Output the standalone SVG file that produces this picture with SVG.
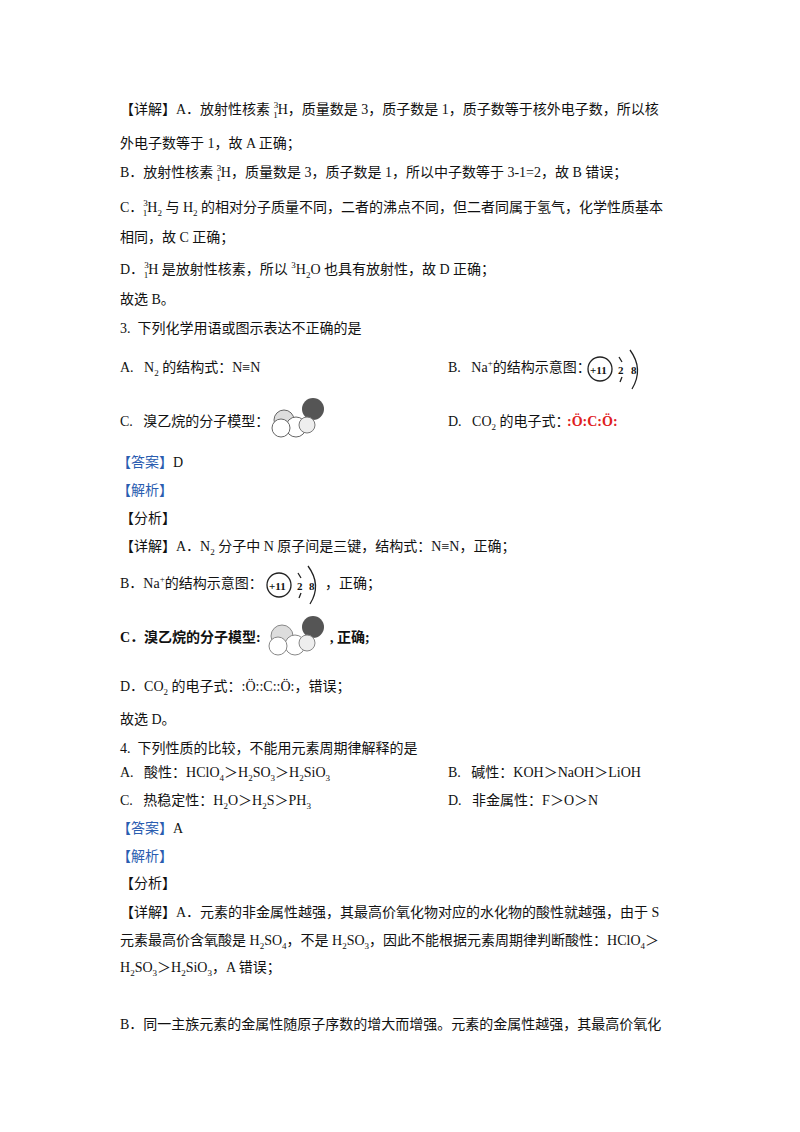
<svg xmlns="http://www.w3.org/2000/svg" width="800" height="1132" viewBox="0 0 800 1132" xml:space="preserve">
<style>
text{font-family:"Liberation Serif","Noto Sans CJK SC",serif;font-size:14px;fill:#111;white-space:pre}
.b{fill:#2a5db0}
.s{font-size:9px}
.r{fill:#e0201c;font-weight:bold}
.ln{fill:none;stroke:#222;stroke-width:1.3}
</style>
<rect width="800" height="1132" fill="#fff"/>
<text x="120" y="114">【详解】A．放射性核素 <tspan class="s" dy="-6">3</tspan><tspan class="s" dx="-5" dy="10">1</tspan><tspan dy="-4">H，质量数是 3，质子数是 1，质子数等于核外电子数，所以核</tspan></text>
<text x="120" y="148">外电子数等于 1，故 A 正确；</text>
<text x="120" y="177">B．放射性核素 <tspan class="s" dy="-6">3</tspan><tspan class="s" dx="-5" dy="10">1</tspan><tspan dy="-4">H，质量数是 3，质子数是 1，所以中子数等于 3-1=2，故 B 错误；</tspan></text>
<text x="120" y="212">C．<tspan class="s" dy="-6">3</tspan><tspan class="s" dx="-5" dy="10">1</tspan><tspan dy="-4">H</tspan><tspan class="s" dy="4">2</tspan><tspan dy="-4"> 与 H</tspan><tspan class="s" dy="4">2</tspan><tspan dy="-4"> 的相对分子质量不同，二者的沸点不同，但二者同属于氢气，化学性质基本</tspan></text>
<text x="120" y="242">相同，故 C 正确；</text>
<text x="120" y="274">D．<tspan class="s" dy="-6">3</tspan><tspan class="s" dx="-5" dy="10">1</tspan><tspan dy="-4">H 是放射性核素，所以 </tspan><tspan class="s" dy="-6">3</tspan><tspan dy="6">H</tspan><tspan class="s" dy="4">2</tspan><tspan dy="-4">O 也具有放射性，故 D 正确；</tspan></text>
<text x="120" y="304">故选 B。</text>
<text x="120" y="333">3.  下列化学用语或图示表达不正确的是</text>
<text x="120" y="372">A.   N<tspan class="s" dy="4">2</tspan><tspan dy="-4"> 的结构式：N≡N</tspan></text>
<text x="448" y="372">B.   Na<tspan class="s" dy="-6">+</tspan><tspan dy="6">的结构示意图：</tspan></text>
<g id="na1"><circle cx="600" cy="369" r="12" class="ln"/><text x="590" y="374" style="font-size:11px;font-weight:bold">+11</text>
<text x="618" y="374" style="font-size:11px;font-weight:bold">2</text><text x="631" y="374" style="font-size:11px;font-weight:bold">8</text>
<path d="M619 357 L622 362 M622 377 L620 382 M630 350 Q644 369 632 389" class="ln"/></g>
<text x="120" y="426">C.   溴乙烷的分子模型：</text>
<g id="m1"><circle cx="313" cy="409" r="11" fill="#555"/><circle cx="284" cy="420" r="10" fill="#ddd" stroke="#666"/><circle cx="296" cy="427" r="10" fill="#fff" stroke="#666"/><circle cx="281" cy="428" r="9" fill="#fff" stroke="#666"/><circle cx="307" cy="425" r="8" fill="#eee" stroke="#777"/></g>
<text x="448" y="426">D.   CO<tspan class="s" dy="4">2</tspan><tspan dy="-4"> 的电子式：</tspan></text>
<text x="567" y="426" class="r">:Ö:C:Ö:</text>
<text x="117" y="467" class="b">【答案】<tspan fill="#111">D</tspan></text>
<text x="117" y="495" class="b">【解析】</text>
<text x="120" y="523">【分析】</text>
<text x="120" y="551">【详解】A．N<tspan class="s" dy="4">2</tspan><tspan dy="-4"> 分子中 N 原子间是三键，结构式：N≡N，正确；</tspan></text>
<text x="120" y="588">B．Na<tspan class="s" dy="-6">+</tspan><tspan dy="6">的结构示意图：</tspan></text>
<g id="na2"><circle cx="279" cy="585" r="12" class="ln"/><text x="269" y="590" style="font-size:11px;font-weight:bold">+11</text>
<text x="297" y="590" style="font-size:11px;font-weight:bold">2</text><text x="309" y="590" style="font-size:11px;font-weight:bold">8</text>
<path d="M298 573 L301 578 M301 593 L299 598 M308 566 Q322 585 310 604" class="ln"/></g>
<text x="325" y="588">，正确；</text>
<text x="120" y="642" font-weight="bold">C．溴乙烷的分子模型:</text>
<g id="m2"><circle cx="313" cy="627" r="11" fill="#555"/><circle cx="282" cy="636" r="11" fill="#ddd" stroke="#888"/><circle cx="295" cy="645" r="10" fill="#fff" stroke="#888"/><circle cx="278" cy="646" r="9" fill="#fff" stroke="#888"/><circle cx="307" cy="643" r="8" fill="#eee" stroke="#888"/></g>
<text x="330" y="642" font-weight="bold">, 正确;</text>
<text x="120" y="691">D．CO<tspan class="s" dy="4">2</tspan><tspan dy="-4"> 的电子式：:Ö::C::Ö:，错误；</tspan></text>
<text x="120" y="724">故选 D。</text>
<text x="120" y="753">4.  下列性质的比较，不能用元素周期律解释的是</text>
<text x="120" y="777">A.   酸性：HClO<tspan class="s" dy="4">4</tspan><tspan dy="-4">＞H</tspan><tspan class="s" dy="4">2</tspan><tspan dy="-4">SO</tspan><tspan class="s" dy="4">3</tspan><tspan dy="-4">＞H</tspan><tspan class="s" dy="4">2</tspan><tspan dy="-4">SiO</tspan><tspan class="s" dy="4">3</tspan></text>
<text x="448" y="777">B.   碱性：KOH＞NaOH＞LiOH</text>
<text x="120" y="805">C.   热稳定性：H<tspan class="s" dy="4">2</tspan><tspan dy="-4">O＞H</tspan><tspan class="s" dy="4">2</tspan><tspan dy="-4">S＞PH</tspan><tspan class="s" dy="4">3</tspan></text>
<text x="448" y="805">D.   非金属性：F＞O＞N</text>
<text x="117" y="833" class="b">【答案】<tspan fill="#111">A</tspan></text>
<text x="117" y="861" class="b">【解析】</text>
<text x="120" y="888">【分析】</text>
<text x="120" y="917">【详解】A．元素的非金属性越强，其最高价氧化物对应的水化物的酸性就越强，由于 S</text>
<text x="120" y="945">元素最高价含氧酸是 H<tspan class="s" dy="4">2</tspan><tspan dy="-4">SO</tspan><tspan class="s" dy="4">4</tspan><tspan dy="-4">，不是 H</tspan><tspan class="s" dy="4">2</tspan><tspan dy="-4">SO</tspan><tspan class="s" dy="4">3</tspan><tspan dy="-4">，因此不能根据元素周期律判断酸性：HClO</tspan><tspan class="s" dy="4">4</tspan><tspan dy="-4">＞</tspan></text>
<text x="120" y="972">H<tspan class="s" dy="4">2</tspan><tspan dy="-4">SO</tspan><tspan class="s" dy="4">3</tspan><tspan dy="-4">＞H</tspan><tspan class="s" dy="4">2</tspan><tspan dy="-4">SiO</tspan><tspan class="s" dy="4">3</tspan><tspan dy="-4">，A 错误；</tspan></text>
<text x="120" y="1029">B．同一主族元素的金属性随原子序数的增大而增强。元素的金属性越强，其最高价氧化</text>
</svg>
